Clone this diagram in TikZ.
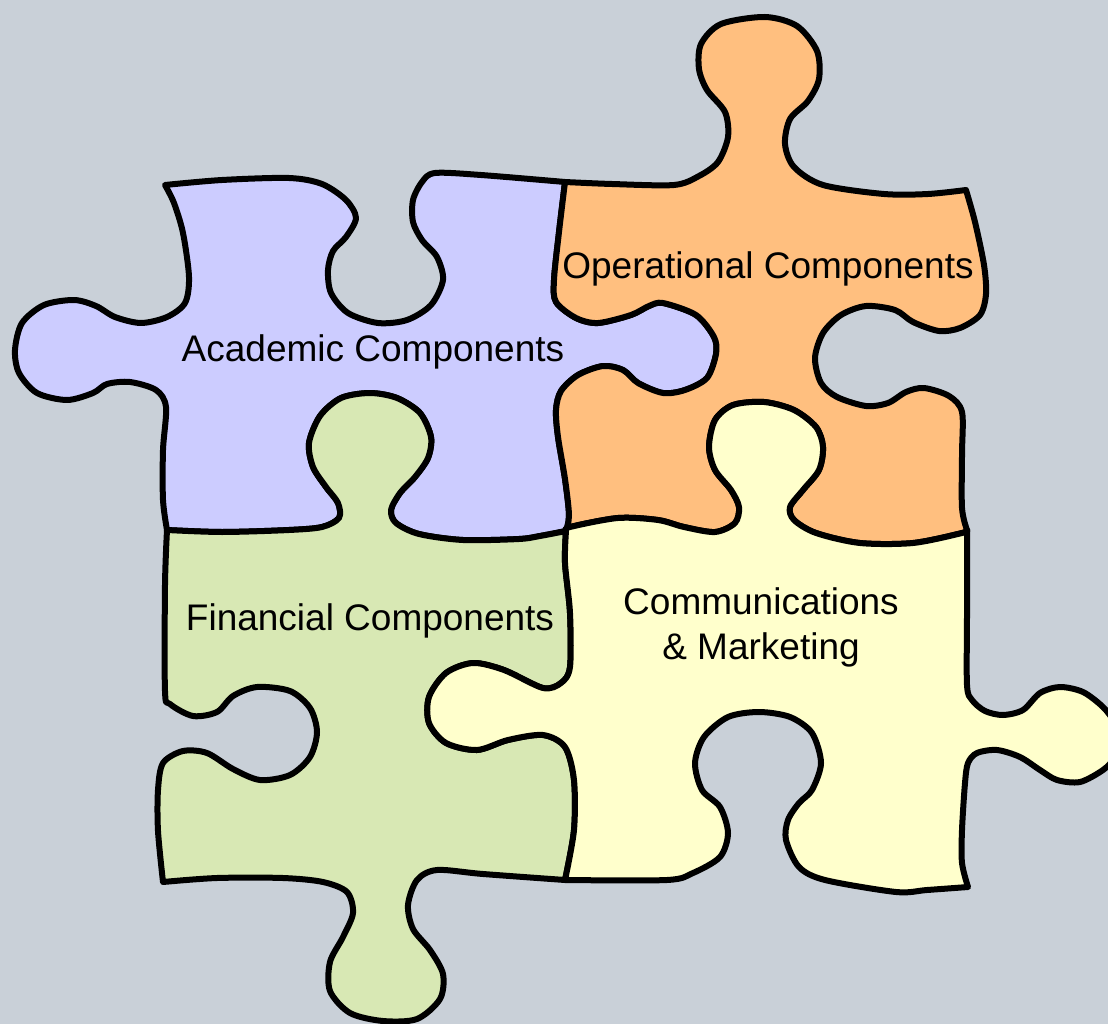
\documentclass[tikz,border=0pt]{standalone}
\usepackage{fontspec}
\setmainfont{Liberation Sans}
\definecolor{bgc}{RGB}{201,208,216}
\definecolor{lav}{RGB}{204,204,255}
\definecolor{org}{RGB}{255,191,127}
\definecolor{grn}{RGB}{216,232,180}
\definecolor{yel}{RGB}{255,255,204}
\tikzset{
  piece/.style={draw=black, line width=6pt, line join=round},
  lbl/.style={font=\fontsize{37}{45}\selectfont, text=black, align=center, inner sep=0pt},
}
\begin{document}
\begin{tikzpicture}[x=1pt,y=-1pt]
\fill[bgc] (0,0) rectangle (1108,1024);
\useasboundingbox (0,0) rectangle (1108,1024);
\begin{scope}
\clip (0,0) rectangle (1108,1024);
% Academic (lavender)
\path[piece, fill=lav]
  plot[smooth] coordinates {(165,185) (222,180) (289,178) (322,184) (346,200) (356,218) (346,237) (333,251) (328,270) (331,293) (348,313) (378,323) (407,320) (431,305) (443,280) (437,257) (422,240) (413,222) (413,200) (422,182) (435,173) (481,175) (565,182)}
  -- plot[smooth] coordinates {(565,182) (559,232) (554,280) (556,302) (576,318) (598,323) (631,315) (649,306) (663,303) (696,315) (714,337) (716,354) (707,378) (685,390) (663,393) (638,383) (623,370) (603,366) (578,375) (561,391) (556,410) (558,437) (565,479) (569,515) (566,531)}
  -- plot[smooth] coordinates {(566,531) (540,536) (519,539) (463,540) (419,534) (396,523) (391,510) (400,493) (415,477) (428,458) (431,437) (420,413) (397,398) (370,393) (341,398) (320,416) (309,443) (313,467) (326,487) (338,503) (339,518) (322,527) (289,530) (222,532) (167,530)}
  -- plot[smooth] coordinates {(167,530) (163,500) (163,450) (166,407) (156,390) (130,382) (107,384) (93,393) (67,400) (37,393) (19,373) (15,350) (22,323) (44,305) (74,300) (96,306) (115,317) (141,323) (167,317) (185,303) (189,277) (183,233) (174,203) (165,185)}
  -- cycle;
% Operational (orange)
\path[piece, fill=org]
  plot[smooth] coordinates {(565,182) (612,184) (674,185) (699,176) (718,162) (728,137) (725,112) (707,90) (699,69) (701,44) (721,24) (765,17) (797,26) (817,51) (819,79) (808,101) (790,119) (785,144) (794,167) (823,185) (884,194) (928,194) (966,190)}
  -- plot[smooth] coordinates {(966,190) (975,222) (984,265) (986,294) (980,315) (960,328) (939,331) (913,322) (895,310) (866,306) (841,315) (823,333) (815,358) (821,383) (837,397) (866,406) (888,403) (906,392) (924,388) (949,396) (962,412) (962,454) (962,508) (967,530)}
  -- plot[smooth] coordinates {(967,530) (962,533) (913,543) (860,543) (816,533) (794,520) (790,507) (803,490) (819,470) (823,447) (816,427) (794,410) (764,402) (733,405) (715,420) (709,447) (715,470) (731,490) (739,507) (735,523) (715,532) (684,527) (658,520) (618,518) (570,527) (566,531)}
  -- plot[smooth] coordinates {(566,531) (569,515) (565,479) (558,437) (556,410) (561,391) (578,375) (603,366) (623,370) (638,383) (663,393) (685,390) (707,378) (716,354) (714,337) (696,315) (663,303) (649,306) (631,315) (598,323) (576,318) (556,302) (554,280) (559,232) (565,182)}
  -- cycle;
% Financial (green)
\path[piece, fill=grn]
  plot[smooth] coordinates {(167,530) (222,532) (289,530) (322,527) (339,518) (338,503) (326,487) (313,467) (309,443) (320,416) (341,398) (370,393) (397,398) (420,413) (431,437) (428,458) (415,477) (400,493) (391,510) (396,523) (419,534) (463,540) (519,539) (540,536) (566,531)}
  -- plot[smooth] coordinates {(566,531) (565,563) (570,613) (570,667) (561,683) (543,688) (504,670) (473,663) (446,673) (429,697) (429,723) (446,743) (477,750) (508,740) (543,735) (565,747) (574,780) (574,830) (565,880)}
  -- plot[smooth] coordinates {(565,880) (483,874) (437,870) (417,880) (408,905) (413,929) (430,950) (443,974) (440,999) (417,1019) (383,1021) (350,1013) (330,991) (330,962) (343,937) (353,913) (347,892) (323,882) (283,878) (217,878) (163,882)}
  -- plot[smooth] coordinates {(163,882) (158,831) (158,790) (163,763) (183,751) (207,753) (233,769) (260,780) (290,775) (310,757) (317,732) (310,708) (290,691) (257,687) (233,696) (217,712) (193,716) (170,704) (165,691) (165,585) (167,530)}
  -- cycle;
% Communications (yellow)
\path[piece, fill=yel]
  plot[smooth] coordinates {(566,531) (570,527) (618,518) (658,520) (684,527) (715,532) (735,523) (739,507) (731,490) (715,470) (709,447) (715,420) (733,405) (764,402) (794,410) (816,427) (823,447) (819,470) (803,490) (790,507) (794,520) (816,533) (860,543) (913,543) (962,533) (967,530)}
  -- plot[smooth] coordinates {(967,530) (967,613) (967,685) (972,700) (985,711) (1003,715) (1023,710) (1040,693) (1060,687) (1083,692) (1103,707) (1114,722) (1118,740) (1114,758) (1103,770) (1080,782) (1057,780) (1040,770) (1020,757) (997,750) (977,753) (968,763) (965,783) (962,830) (962,863) (968,887)}
  -- plot[smooth] coordinates {(968,887) (927,890) (896,892) (825,880) (799,867) (786,840) (788,820) (799,803) (812,790) (821,763) (812,733) (790,717) (759,712) (728,717) (704,737) (695,763) (702,790) (720,807) (728,833) (720,857) (693,873) (667,880) (565,880)}
  -- plot[smooth] coordinates {(565,880) (574,830) (574,780) (565,747) (543,735) (508,740) (477,750) (446,743) (429,723) (429,697) (446,673) (473,663) (504,670) (543,688) (561,683) (570,667) (570,613) (565,563) (566,531)}
  -- cycle;
\end{scope}
\node[lbl, anchor=base] (acad) at (373,361) {Academic Components};
\node[lbl, anchor=base] (oper) at (768,279) {Operational Components};
\node[lbl, anchor=base] (fin) at (370,630) {Financial Components};
\node[lbl] (comm) at (761,627) {Communications\\\& Marketing};
\end{tikzpicture}
\end{document}
